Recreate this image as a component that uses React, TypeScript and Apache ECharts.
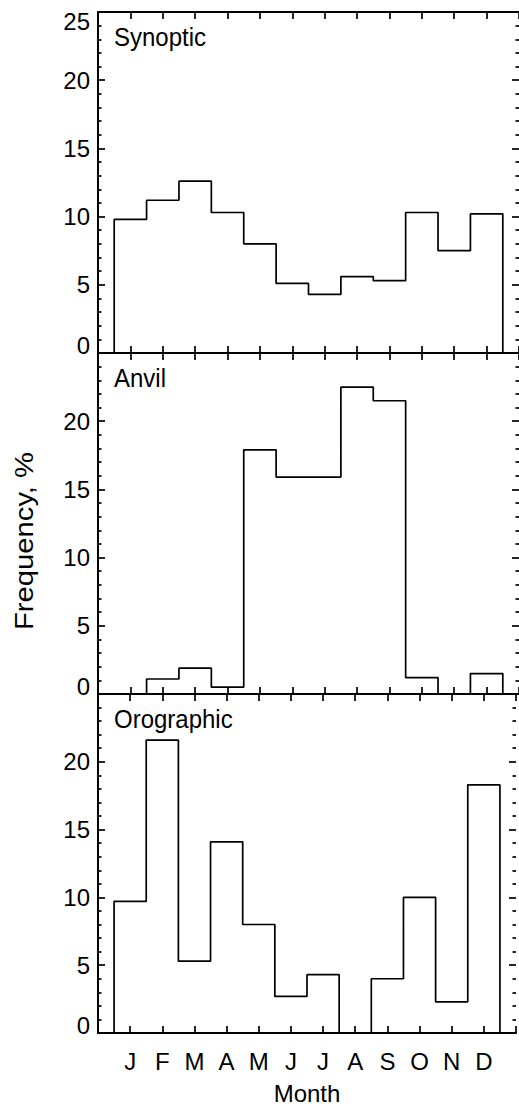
import React, { useEffect, useRef } from "react";
import * as echarts from "echarts";

// ---- data ----
const MONTHS = ["J", "F", "M", "A", "M", "J", "J", "A", "S", "O", "N", "D"];
const PANEL_NAMES = ["Synoptic", "Anvil", "Orographic"];
const SYNOPTIC = [9.8, 11.2, 12.6, 10.3, 8.0, 5.1, 4.3, 5.6, 5.3, 10.3, 7.5, 10.2];
const ANVIL = [0, 1.1, 1.9, 0.5, 17.9, 15.9, 15.9, 22.5, 21.5, 1.2, 0, 1.5];
const OROGRAPHIC = [9.7, 21.6, 5.3, 14.1, 8.0, 2.7, 4.3, 0, 4.0, 10.0, 2.3, 18.3];
const Y_MIN = 0;
const Y_MAX = 25;
const Y_STEP = 5;
const X_MIN = 0;
const X_MAX = 13;
const Y_TITLE = "Frequency, %";
const X_TITLE = "Month";

const SERIES = [SYNOPTIC, ANVIL, OROGRAPHIC];

// ---- layout ----
const W = 519;
const H = 1106;
const LEFT = 98;
const RIGHT = 0;
const PANEL_TOPS = [12, 353, 694];
const PANEL_HEIGHTS = [341, 341, 342];
const FONT = "'Liberation Sans', Arial, Helvetica, sans-serif";
const FS = 24;

function outline(values: number[]): number[][] {
  // histogram outline: month i occupies [i + 0.5, i + 1.5] on the x value axis
  const pts: number[][] = [[0.5, 0]];
  values.forEach((v, i) => {
    pts.push([i + 0.5, v]);
    pts.push([i + 1.5, v]);
  });
  pts.push([values.length + 0.5, 0]);
  return pts;
}

export default function App() {
  const ref = useRef<HTMLDivElement>(null);

  useEffect(() => {
    document.body.style.margin = "0";
    if (!ref.current) return;
    const chart = echarts.init(ref.current, undefined, { renderer: "svg" });

    const grids = PANEL_TOPS.map((top, k) => ({
      left: LEFT,
      right: RIGHT,
      top,
      height: PANEL_HEIGHTS[k],
      containLabel: false,
    }));

    const axisLine = { show: true, onZero: false, lineStyle: { color: "#000", width: 2 } };
    const tick = { show: true, inside: true, length: 7, lineStyle: { color: "#000", width: 1.7 } };

    const xAxes: any[] = [];
    const yAxes: any[] = [];
    PANEL_TOPS.forEach((_, k) => {
      const isLast = k === PANEL_TOPS.length - 1;
      ["bottom", "top"].forEach((pos) => {
        const showLabel = isLast && pos === "bottom";
        xAxes.push({
          gridIndex: k,
          type: "value",
          position: pos,
          min: X_MIN,
          max: X_MAX,
          interval: 1,
          axisLine,
          axisTick: tick,
          splitLine: { show: false },
          axisLabel: {
            show: showLabel,
            margin: 16,
            color: "#000",
            fontSize: FS,
            fontFamily: FONT,
            formatter: (v: number) => MONTHS[v - 1] ?? "",
          },
          name: showLabel ? X_TITLE : "",
          nameLocation: "middle",
          nameGap: 48,
          nameTextStyle: { color: "#000", fontSize: FS, fontFamily: FONT },
        });
      });
      ["left", "right"].forEach((pos) => {
        const isLeft = pos === "left";
        yAxes.push({
          gridIndex: k,
          type: "value",
          position: pos,
          min: Y_MIN,
          max: Y_MAX,
          interval: Y_STEP,
          axisLine: isLeft ? axisLine : { show: false, onZero: false },
          axisTick: tick,
          minorTick: {
            show: true,
            splitNumber: 5,
            length: 3.5,
            lineStyle: { color: "#000", width: 1.7 },
          },
          splitLine: { show: false },
          minorSplitLine: { show: false },
          axisLabel: {
            show: isLeft,
            margin: 8,
            color: "#000",
            fontSize: FS,
            fontFamily: FONT,
            formatter: (v: number) => {
              if (v === Y_MIN) return "{lo|" + v + "}";
              if (v === Y_MAX) return k === 0 ? "{hi|" + v + "}" : "";
              return String(v);
            },
            rich: {
              lo: { fontSize: FS, fontFamily: FONT, color: "#000", padding: [0, 0, 15, 0] },
              hi: { fontSize: FS, fontFamily: FONT, color: "#000", padding: [19, 0, 0, 0] },
            },
          },
        });
      });
    });

    const series = SERIES.map((vals, k) => ({
      type: "line",
      name: PANEL_NAMES[k],
      xAxisIndex: 2 * k,
      yAxisIndex: 2 * k,
      data: outline(vals),
      symbol: "none",
      lineStyle: { color: "#000", width: 1.7 },
      clip: false,
    }));

    const graphic: any[] = PANEL_NAMES.map((name, k) => ({
      type: "text",
      x: 114,
      y: PANEL_TOPS[k] + 24.5,
      scaleY: 1.08,
      style: {
        text: name,
        fill: "#000",
        fontSize: FS,
        fontFamily: FONT,
        align: "left",
        verticalAlign: "middle",
      },
    }));
    graphic.push({
      type: "text",
      x: 24,
      y: 541,
      rotation: Math.PI / 2,
      scaleX: 1.17,
      style: {
        text: Y_TITLE,
        fill: "#000",
        fontSize: 25,
        fontFamily: FONT,
        align: "center",
        verticalAlign: "middle",
      },
    });

    chart.setOption({
      animation: false,
      backgroundColor: "#fff",
      grid: grids,
      xAxis: xAxes,
      yAxis: yAxes,
      series,
      graphic,
    });

    return () => chart.dispose();
  }, []);

  return <div ref={ref} style={{ width: W, height: H }} />;
}
